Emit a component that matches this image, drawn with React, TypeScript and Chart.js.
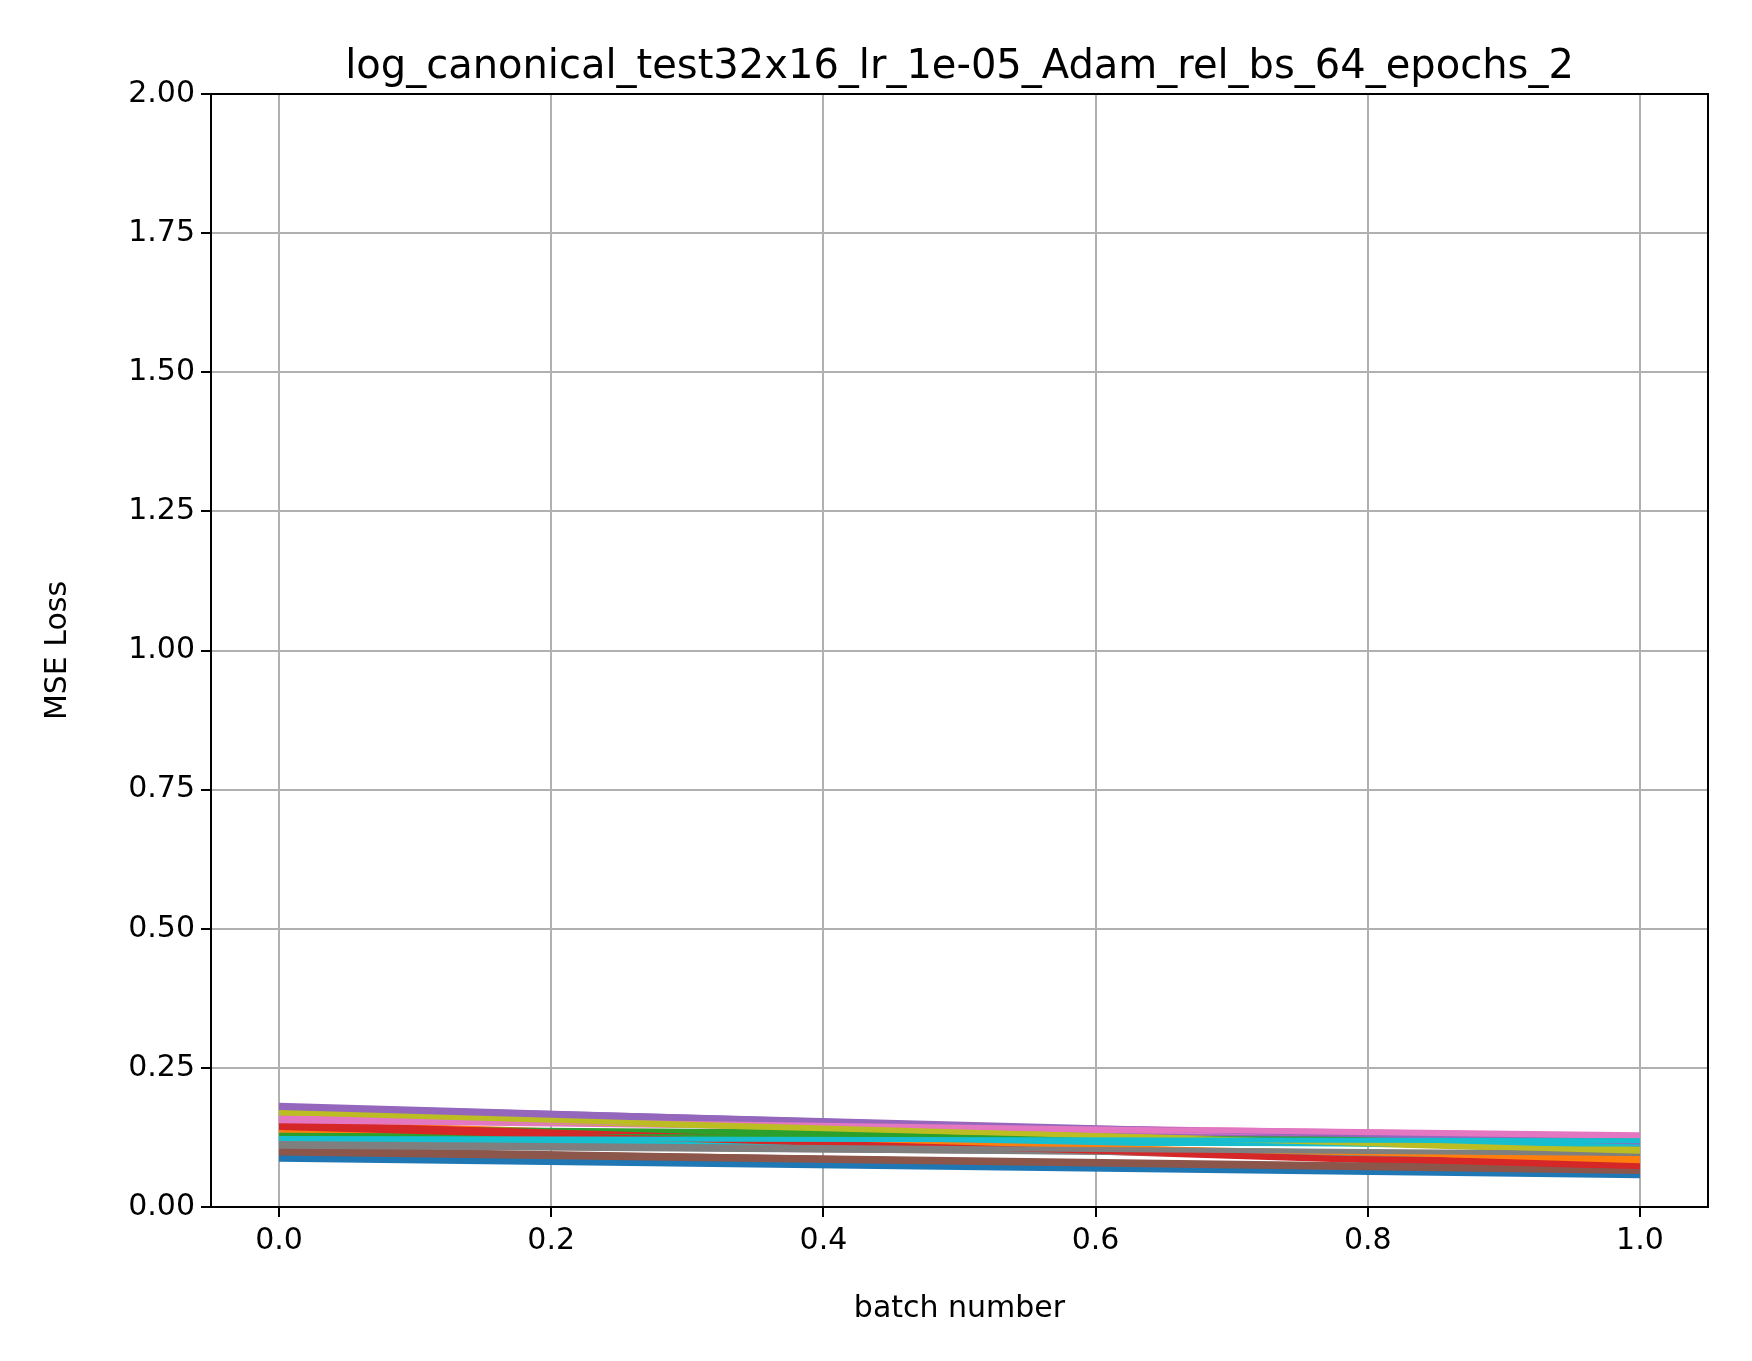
import React, { useEffect, useRef } from 'react';
import { Chart, registerables } from 'chart.js';

Chart.register(...registerables);

const batches = [0, 1];
// loss at batch 0 and batch 1, one pair per run
const startLoss = [
  0.086, 0.152, 0.134, 0.148, 0.183, 0.104, 0.158, 0.118, 0.172, 0.121,
  0.092, 0.139, 0.127, 0.145, 0.178, 0.099, 0.162, 0.112, 0.168, 0.125,
  0.089, 0.131, 0.141, 0.150, 0.175, 0.101, 0.155, 0.109, 0.165, 0.116,
  0.095, 0.136, 0.129, 0.143, 0.181, 0.097, 0.160, 0.114, 0.170, 0.123,
];
const endLoss = [
  0.056, 0.078, 0.122, 0.071, 0.112, 0.063, 0.130, 0.094, 0.102, 0.115,
  0.060, 0.084, 0.118, 0.068, 0.107, 0.066, 0.128, 0.089, 0.099, 0.110,
  0.058, 0.081, 0.125, 0.074, 0.109, 0.069, 0.126, 0.092, 0.104, 0.113,
  0.061, 0.087, 0.120, 0.072, 0.117, 0.064, 0.127, 0.096, 0.100, 0.119,
];
const colors = ['#1f77b4', '#ff7f0e', '#2ca02c', '#d62728', '#9467bd', '#8c564b', '#e377c2', '#7f7f7f', '#bcbd22', '#17becf'];
const xTicks = [0, 0.2, 0.4, 0.6, 0.8, 1.0];
const yTicks = [0, 0.25, 0.5, 0.75, 1, 1.25, 1.5, 1.75, 2];
const titleText = 'log_canonical_test32x16_lr_1e-05_Adam_rel_bs_64_epochs_2';

const font = { family: 'DejaVu Sans', size: 30 };

export default function App() {
  const ref = useRef<HTMLCanvasElement>(null);

  useEffect(() => {
    if (!ref.current) return;
    const n = startLoss.length;
    const datasets = startLoss.map((s, i) => ({
      data: batches.map((b, j) => ({ x: b, y: j === 0 ? s : endLoss[i] })),
      borderColor: colors[i % colors.length],
      borderWidth: 5,
      pointRadius: 0,
      order: n - i,
    }));

    const chart = new Chart(ref.current, {
      type: 'line',
      data: { datasets },
      options: {
        animation: false,
        responsive: false,
        layout: { padding: { left: 36, right: 44, top: 94, bottom: 30 } },
        plugins: {
          legend: { display: false },
          tooltip: { enabled: false },
        },
        scales: {
          x: {
            type: 'linear',
            min: -0.05,
            max: 1.05,
            afterBuildTicks: (s: any) => { s.ticks = xTicks.map(v => ({ value: v })); },
            afterFit: (s: any) => { s.height = 124; },
            ticks: { color: '#000', font, padding: 6, callback: (v: any) => Number(v).toFixed(1), maxRotation: 0 },
            grid: { color: '#b0b0b0', lineWidth: 2, tickColor: '#000', tickLength: 10 },
            border: { color: '#000', width: 2 },
            title: { display: true, text: 'batch number', color: '#000', font, padding: { top: 8 } },
          },
          y: {
            min: 0,
            max: 2,
            afterBuildTicks: (s: any) => { s.ticks = yTicks.map(v => ({ value: v })); },
            afterFit: (s: any) => { s.width = 175; },
            ticks: { color: '#000', font, padding: 6, callback: (v: any) => Number(v).toFixed(2) },
            grid: { color: '#b0b0b0', lineWidth: 2, tickColor: '#000', tickLength: 10 },
            border: { color: '#000', width: 2 },
            title: { display: true, text: 'MSE Loss', color: '#000', font, padding: { bottom: 0 } },
          },
        },
      },
      plugins: [{
        id: 'frame',
        afterDraw: (c: any) => {
          const { ctx, chartArea: a } = c;
          ctx.save();
          ctx.strokeStyle = '#000';
          ctx.lineWidth = 2;
          ctx.strokeRect(a.left, a.top, a.right - a.left, a.bottom - a.top);
          ctx.fillStyle = '#000';
          ctx.font = '40px "DejaVu Sans"';
          ctx.textAlign = 'center';
          ctx.textBaseline = 'alphabetic';
          ctx.fillText(titleText, (a.left + a.right) / 2, a.top - 16);
          ctx.restore();
        },
      }],
    });
    return () => chart.destroy();
  }, []);

  return (
    <div style={{ margin: -8, background: '#fff' }}>
      <canvas ref={ref} width={1752} height={1361} style={{ width: 1752, height: 1361, display: 'block' }} />
    </div>
  );
}
